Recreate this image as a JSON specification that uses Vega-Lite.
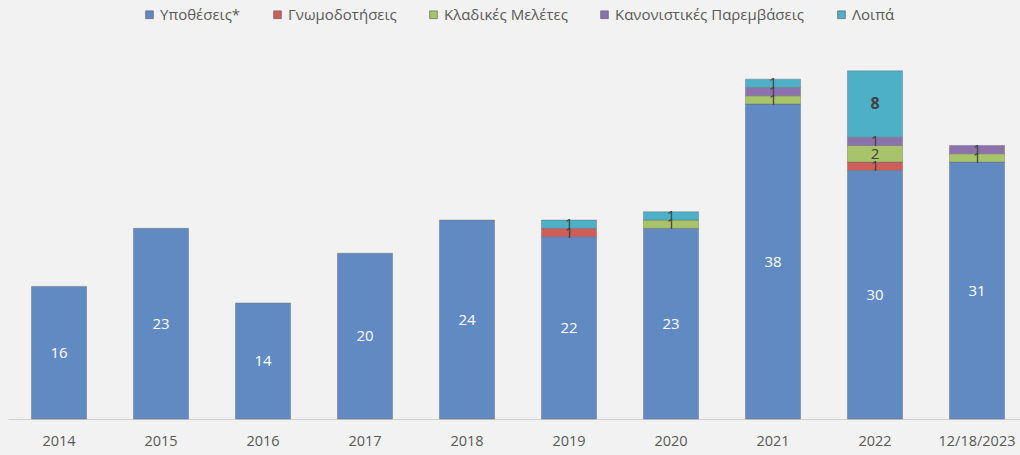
{
  "$schema": "https://vega.github.io/schema/vega-lite/v6.json",
  "autosize": "none",
  "width": 1020,
  "height": 373,
  "padding": {"left": 8, "top": 46, "right": 0, "bottom": 36},
  "background": "#f2f2f2",
  "config": {
    "view": {"stroke": null},
    "font": "Open Sans, sans-serif"
  },
  "data": {
    "values": [
      {"year": "2014", "cat": "Υποθέσεις*", "ord": 1, "v": 16},
      {"year": "2015", "cat": "Υποθέσεις*", "ord": 1, "v": 23},
      {"year": "2016", "cat": "Υποθέσεις*", "ord": 1, "v": 14},
      {"year": "2017", "cat": "Υποθέσεις*", "ord": 1, "v": 20},
      {"year": "2018", "cat": "Υποθέσεις*", "ord": 1, "v": 24},
      {"year": "2019", "cat": "Υποθέσεις*", "ord": 1, "v": 22},
      {"year": "2019", "cat": "Γνωμοδοτήσεις", "ord": 2, "v": 1},
      {"year": "2019", "cat": "Λοιπά", "ord": 5, "v": 1},
      {"year": "2020", "cat": "Υποθέσεις*", "ord": 1, "v": 23},
      {"year": "2020", "cat": "Κλαδικές Μελέτες", "ord": 3, "v": 1},
      {"year": "2020", "cat": "Λοιπά", "ord": 5, "v": 1},
      {"year": "2021", "cat": "Υποθέσεις*", "ord": 1, "v": 38},
      {"year": "2021", "cat": "Κλαδικές Μελέτες", "ord": 3, "v": 1},
      {"year": "2021", "cat": "Κανονιστικές Παρεμβάσεις", "ord": 4, "v": 1},
      {"year": "2021", "cat": "Λοιπά", "ord": 5, "v": 1},
      {"year": "2022", "cat": "Υποθέσεις*", "ord": 1, "v": 30},
      {"year": "2022", "cat": "Γνωμοδοτήσεις", "ord": 2, "v": 1},
      {"year": "2022", "cat": "Κλαδικές Μελέτες", "ord": 3, "v": 2},
      {"year": "2022", "cat": "Κανονιστικές Παρεμβάσεις", "ord": 4, "v": 1},
      {"year": "2022", "cat": "Λοιπά", "ord": 5, "v": 8},
      {"year": "12/18/2023", "cat": "Υποθέσεις*", "ord": 1, "v": 31},
      {"year": "12/18/2023", "cat": "Κλαδικές Μελέτες", "ord": 3, "v": 1},
      {"year": "12/18/2023", "cat": "Κανονιστικές Παρεμβάσεις", "ord": 4, "v": 1}
    ]
  },
  "transform": [
    {"stack": "v", "groupby": ["year"], "sort": [{"field": "ord"}], "as": ["v0", "v1"]},
    {"calculate": "(datum.v0 + datum.v1) / 2", "as": "mid"}
  ],
  "encoding": {
    "x": {
      "field": "year",
      "type": "nominal",
      "sort": null,
      "title": null,
      "scale": {"paddingInner": 0.46, "paddingOuter": 0.23},
      "axis": {
        "labelAngle": 0,
        "labelFontSize": 14.5,
        "labelColor": "#595959",
        "labelPadding": 15,
        "ticks": false,
        "domainColor": "#d0d0d0",
        "domainWidth": 1
      }
    }
  },
  "layer": [
    {
      "mark": {"type": "bar", "stroke": "#6b6b6b", "strokeWidth": 0.6, "strokeOpacity": 0.7},
      "encoding": {
        "y": {"field": "v1", "type": "quantitative", "scale": {"domain": [0, 45]}, "axis": null},
        "y2": {"field": "v0"},
        "color": {
          "field": "cat",
          "type": "nominal",
          "sort": ["Υποθέσεις*", "Γνωμοδοτήσεις", "Κλαδικές Μελέτες", "Κανονιστικές Παρεμβάσεις", "Λοιπά"],
          "scale": {
            "domain": ["Υποθέσεις*", "Γνωμοδοτήσεις", "Κλαδικές Μελέτες", "Κανονιστικές Παρεμβάσεις", "Λοιπά"],
            "range": ["#608ac1", "#cf5e5a", "#a8c46a", "#8c72ad", "#4db0c7"]
          },
          "legend": {
            "title": null,
            "orient": "none",
            "direction": "horizontal",
            "legendX": 134,
            "legendY": -39,
            "symbolType": "square",
            "symbolSize": 60,
            "symbolStrokeColor": "#555555",
            "symbolStrokeWidth": 0.6,
            "labelFontSize": 15,
            "labelColor": "#595959",
            "labelOffset": 3,
            "labelLimit": 400,
            "columnPadding": 29
          }
        }
      }
    },
    {
      "transform": [{"filter": "datum.v !== 8"}],
      "mark": {"type": "text", "fontSize": 15, "baseline": "middle"},
      "encoding": {
        "y": {"field": "mid", "type": "quantitative", "scale": {"domain": [0, 45]}},
        "text": {"field": "v", "type": "quantitative"},
        "color": {
          "condition": {"test": "datum.cat === 'Υποθέσεις*'", "value": "#ffffff"},
          "value": "#404040"
        }
      }
    },
    {
      "transform": [{"filter": "datum.v === 8"}],
      "mark": {"type": "text", "fontSize": 16, "fontWeight": "bold", "baseline": "middle", "color": "#404040"},
      "encoding": {
        "y": {"field": "mid", "type": "quantitative", "scale": {"domain": [0, 45]}},
        "text": {"field": "v", "type": "quantitative"}
      }
    }
  ]
}
